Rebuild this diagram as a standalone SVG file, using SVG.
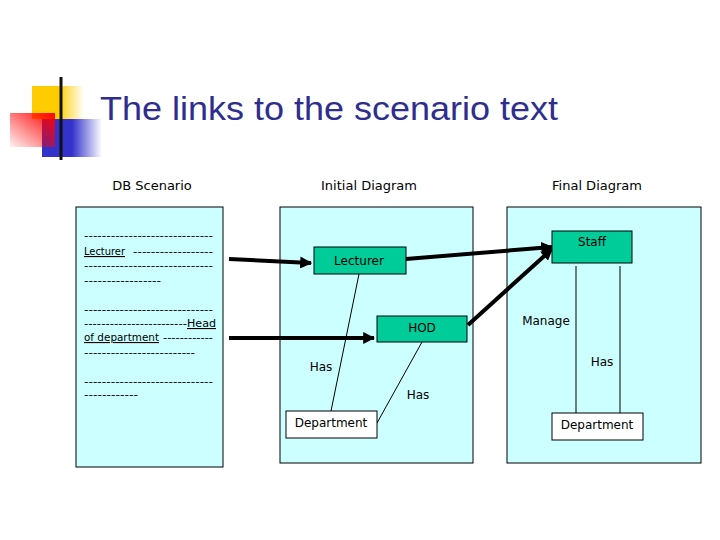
<svg xmlns="http://www.w3.org/2000/svg" width="720" height="540" viewBox="0 0 720 540">
<defs>
<linearGradient id="gy" x1="0" y1="0" x2="1" y2="0"><stop offset="0" stop-color="#ffcc00"/><stop offset="0.5" stop-color="#ffcc00"/><stop offset="1" stop-color="#ffcc00" stop-opacity="0"/></linearGradient>
<linearGradient id="gb" x1="0" y1="0" x2="1" y2="0"><stop offset="0" stop-color="#3333cc"/><stop offset="0.5" stop-color="#3333cc"/><stop offset="1" stop-color="#3333cc" stop-opacity="0"/></linearGradient>
<linearGradient id="gr" x1="1" y1="0" x2="0" y2="1"><stop offset="0" stop-color="#ff0000"/><stop offset="1" stop-color="#ff0000" stop-opacity="0.05"/></linearGradient>
<linearGradient id="gl" x1="0" y1="0" x2="1" y2="0"><stop offset="0" stop-color="#222222"/><stop offset="1" stop-color="#bbbbbb"/></linearGradient>
<marker id="ah" viewBox="0 0 10 10" refX="9" refY="5" markerWidth="3" markerHeight="3" orient="auto" markerUnits="strokeWidth"><path d="M0,0 L10,5 L0,10 z" fill="#000"/></marker>
</defs>
<style>
.panel{fill:#ccffff;stroke:#000;stroke-width:1}
.ent{fill:#00cc99;stroke:#000;stroke-width:1}
.wht{fill:#ffffff;stroke:#000;stroke-width:1}
.hdr{font-family:"DejaVu Sans",sans-serif;font-size:13px;fill:#000;text-anchor:middle}
.lbl{font-family:"DejaVu Sans",sans-serif;font-size:12px;fill:#000;text-anchor:middle}
.sc{font-family:"DejaVu Sans",sans-serif;font-size:11px;fill:#000}
.u{text-decoration:underline}
.thick{stroke:#000;stroke-width:4;fill:none;marker-end:url(#ah)}
.thin{stroke:#000;stroke-width:1;fill:none}
</style>
<rect width="720" height="540" fill="#fff"/>
<g id="decor">
<rect x="32" y="86" width="52" height="33" fill="url(#gy)"/>
<rect x="42" y="119" width="60" height="38" fill="url(#gb)"/>
<rect x="10" y="113" width="45" height="34" fill="url(#gr)"/>
<line x1="33" y1="141" x2="560" y2="141" stroke="url(#gl)" stroke-width="2"/>
<line x1="61" y1="77" x2="61" y2="160" stroke="#111" stroke-width="3"/>
</g>
<text id="title" x="100" y="120" font-family="Liberation Sans, Arial, sans-serif" font-size="33" fill="#2e2e8f" textLength="458" lengthAdjust="spacingAndGlyphs">The links to the scenario text</text>
<text class="hdr" x="152" y="190">DB Scenario</text>
<text class="hdr" x="369" y="190">Initial Diagram</text>
<text class="hdr" x="597" y="190">Final Diagram</text>
<g id="scenario">
<rect class="panel" x="76" y="207" width="147" height="260"/>
<text class="sc" x="84" y="239" textLength="129" lengthAdjust="spacingAndGlyphs">-----------------------------</text>
<text class="sc u" x="84" y="255" textLength="41" lengthAdjust="spacingAndGlyphs">Lecturer</text>
<text class="sc" x="133" y="255" textLength="80" lengthAdjust="spacingAndGlyphs">------------------</text>
<text class="sc" x="84" y="269" textLength="129" lengthAdjust="spacingAndGlyphs">-----------------------------</text>
<text class="sc" x="84" y="284" textLength="77" lengthAdjust="spacingAndGlyphs">-----------------</text>
<text class="sc" x="84" y="313" textLength="129" lengthAdjust="spacingAndGlyphs">-----------------------------</text>
<text class="sc" x="84" y="327" textLength="103" lengthAdjust="spacingAndGlyphs">------------------------</text>
<text class="sc u" x="187" y="327" textLength="29" lengthAdjust="spacingAndGlyphs">Head</text>
<text class="sc u" x="84" y="341" textLength="75" lengthAdjust="spacingAndGlyphs">of department</text>
<text class="sc" x="163" y="341" textLength="50" lengthAdjust="spacingAndGlyphs">------------</text>
<text class="sc" x="84" y="356" textLength="111" lengthAdjust="spacingAndGlyphs">-------------------------</text>
<text class="sc" x="84" y="385" textLength="129" lengthAdjust="spacingAndGlyphs">-----------------------------</text>
<text class="sc" x="84" y="398" textLength="54" lengthAdjust="spacingAndGlyphs">------------</text>
</g>
<g id="initial">
<rect class="panel" x="280" y="207" width="193" height="256"/>
</g>
<g id="final">
<rect class="panel" x="507" y="207" width="194" height="256"/>
</g>
<g id="connectors">
<line class="thin" x1="359" y1="274" x2="331" y2="411"/>
<line class="thin" x1="422" y1="342" x2="377" y2="423"/>
<line class="thin" x1="576" y1="266" x2="576" y2="413"/>
<line class="thin" x1="620" y1="266" x2="620" y2="413"/>
<line class="thick" x1="229" y1="259" x2="311" y2="263"/>
<line class="thick" x1="229" y1="338" x2="374" y2="338"/>
<line class="thick" x1="406" y1="259" x2="552" y2="247"/>
<line class="thick" x1="468" y1="325" x2="552" y2="249"/>
<text class="lbl" x="321" y="371">Has</text>
<text class="lbl" x="418" y="399">Has</text>
<text class="lbl" x="546" y="325">Manage</text>
<text class="lbl" x="602" y="366">Has</text>
</g>
<g id="lecturer">
<rect class="ent" x="314" y="247" width="92" height="27"/>
<text class="lbl" x="359" y="265" font-size="13">Lecturer</text>
</g>
<g id="hod">
<rect class="ent" x="377" y="316" width="90" height="26"/>
<text class="lbl" x="422" y="332">HOD</text>
</g>
<g id="department1">
<rect class="wht" x="286" y="411" width="91" height="27"/>
<text class="lbl" x="331" y="427">Department</text>
</g>
<g id="staff">
<rect class="ent" x="552" y="231" width="80" height="32"/>
<text class="lbl" x="592" y="246">Staff</text>
</g>
<g id="department2">
<rect class="wht" x="552" y="413" width="91" height="27"/>
<text class="lbl" x="597" y="429">Department</text>
</g>
</svg>
